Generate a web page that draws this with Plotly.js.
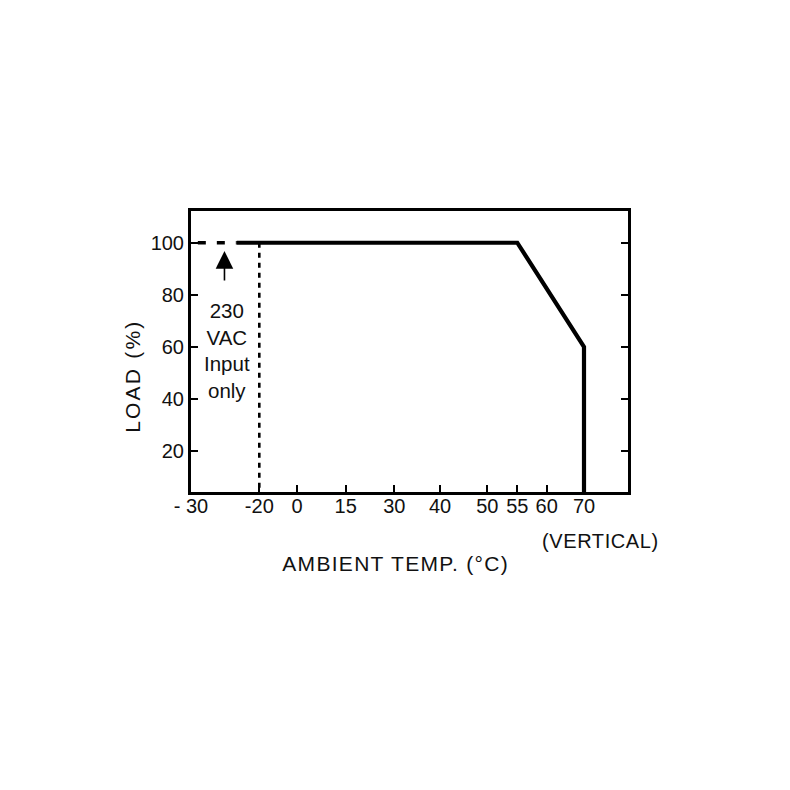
<!DOCTYPE html>
<html>
<head>
<meta charset="utf-8">
<script src="https://cdn.plot.ly/plotly-3.0.1.min.js"></script>
<style>
  html, body { margin: 0; padding: 0; background: #fff; }
  #chart { width: 790px; height: 790px; }
  .annotation[data-index="0"] text { letter-spacing: 1.3px; }
  .annotation[data-index="1"] text { letter-spacing: 2.2px; }
  .annotation[data-index="2"] text { letter-spacing: 0.6px; }
</style>
</head>
<body>
<div id="chart"></div>
<script>
// ---- Axis scale (the chart's non-uniform temperature axis) ----
const scaleTemps = [-30, -20, 0, 15, 30, 40, 50, 55, 60, 70];
const scalePos   = [0, 68.3, 106, 154.7, 203.3, 249, 296.3, 326.3, 355.7, 393];
const tickText   = ["- 30", "-20", "0", "15", "30", "40", "50", "55", "60", "70"];

// ---- Y ticks ----
const loadTicks = [20, 40, 60, 80, 100];

// ---- Series ----
const ratedTemp = [-23.3, 55, 70, 70];
const ratedLoad = [100, 100, 60, 0];
const lowTemp   = [-29, -23.3];
const lowLoad   = [100, 100];
const limitTemp = [-20, -20];
const limitLoad = [100, 0];

// ---- Annotation text ----
const noteLines = ["230", "VAC", "Input", "only"];
const noteTemp = -25.1;
const noteArrowLoad = 96.8;

function xAt(t) {
  for (let i = 0; i < scaleTemps.length - 1; i++) {
    const a = scaleTemps[i], b = scaleTemps[i + 1];
    if (t >= a && t <= b) {
      return scalePos[i] + (t - a) / (b - a) * (scalePos[i + 1] - scalePos[i]);
    }
  }
  return t < scaleTemps[0] ? scalePos[0] : scalePos[scalePos.length - 1];
}

const FONT = "Liberation Sans, Arial, Helvetica, sans-serif";
const L = 191, R = 628, T = 211, B = 492;
const px2x = p => (p - L) / (R - L);
const px2y = p => (B - p) / (B - T);

const traces = [
  {
    x: ratedTemp.map(xAt), y: ratedLoad, mode: 'lines',
    line: { color: '#000', width: 4.2 }, hoverinfo: 'skip', showlegend: false
  },
  {
    x: lowTemp.map(xAt), y: lowLoad, mode: 'lines',
    line: { color: '#000', width: 3.6, dash: '8px,11px' }, hoverinfo: 'skip', showlegend: false
  },
  {
    x: limitTemp.map(xAt), y: limitLoad, mode: 'lines',
    line: { color: '#000', width: 2.6, dash: '5px,5px' }, hoverinfo: 'skip', showlegend: false
  }
];

const annotations = [
  { text: 'AMBIENT TEMP. (°C)', xref: 'paper', yref: 'paper', x: px2x(395), y: px2y(563),
    xanchor: 'center', yanchor: 'middle', showarrow: false, font: { family: FONT, size: 21, color: '#111' } },
  { text: 'LOAD (%)', xref: 'paper', yref: 'paper', x: px2x(132), y: px2y(376), textangle: -90,
    xanchor: 'center', yanchor: 'middle', showarrow: false, font: { family: FONT, size: 21, color: '#111' } },
  { text: '(VERTICAL)', xref: 'paper', yref: 'paper', x: px2x(600), y: px2y(541),
    xanchor: 'center', yanchor: 'middle', showarrow: false, font: { family: FONT, size: 20, color: '#111' } },
  { text: noteLines.join('<br>'), xref: 'paper', yref: 'paper', x: px2x(226.5), y: px2y(350),
    xanchor: 'center', yanchor: 'middle', showarrow: false, font: { family: FONT, size: 20.5, color: '#111' } },
  { text: '', xref: 'x', yref: 'y', x: xAt(noteTemp), y: noteArrowLoad, ax: 0, ay: 31,
    showarrow: true, arrowhead: 2, arrowsize: 2.2, arrowwidth: 1.6, arrowcolor: '#000', standoff: 0 }
];

const layout = {
  width: 790, height: 790,
  margin: { l: L, r: 790 - R, t: T, b: 790 - B, pad: 0 },
  paper_bgcolor: '#fff', plot_bgcolor: '#fff',
  showlegend: false,
  font: { family: FONT, size: 20, color: '#111' },
  xaxis: {
    range: [0, 437], tickmode: 'array', tickvals: scaleTemps.map(xAt), ticktext: tickText,
    ticks: 'inside', ticklen: 7, tickwidth: 2, tickcolor: '#000', ticklabelstandoff: -6,
    showline: true, linecolor: '#000', linewidth: 3, mirror: true,
    showgrid: false, zeroline: false, fixedrange: true,
    tickfont: { family: FONT, size: 20, color: '#111' }
  },
  yaxis: {
    range: [4.2, 112.2], tickmode: 'array', tickvals: loadTicks,
    ticks: 'inside', ticklen: 7, tickwidth: 2, tickcolor: '#000',
    showline: true, linecolor: '#000', linewidth: 3, mirror: 'ticks',
    showgrid: false, zeroline: false, fixedrange: true,
    tickfont: { family: FONT, size: 20, color: '#111' }
  },
  annotations: annotations
};

Plotly.newPlot('chart', traces, layout, { staticPlot: true, displayModeBar: false });
</script>
</body>
</html>
